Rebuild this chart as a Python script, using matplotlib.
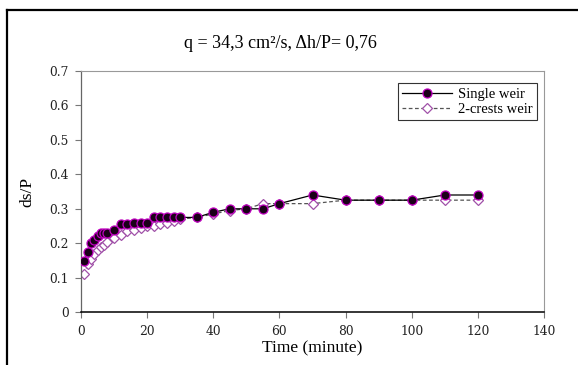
import matplotlib
matplotlib.use("Agg")
import matplotlib.pyplot as plt
from matplotlib.lines import Line2D

# --- Data ---
time_single = [1, 2, 3, 4, 5, 6, 7, 8, 10, 12, 14, 16, 18, 20, 22, 24, 26, 28, 30,
               35, 40, 45, 50, 55, 60, 70, 80, 90, 100, 110, 120]
ds_single = [0.15, 0.175, 0.20, 0.21, 0.22, 0.23, 0.23, 0.23, 0.24, 0.255, 0.255,
             0.26, 0.26, 0.26, 0.275, 0.275, 0.275, 0.275, 0.275,
             0.275, 0.29, 0.30, 0.30, 0.30, 0.315, 0.34, 0.325, 0.325, 0.325, 0.34, 0.34]

time_two = [1, 2, 3, 4, 5, 6, 7, 8, 10, 12, 14, 16, 18, 20, 22, 24, 26, 28, 30,
            35, 40, 45, 50, 55, 60, 70, 80, 90, 100, 110, 120]
ds_two = [0.11, 0.14, 0.155, 0.17, 0.18, 0.19, 0.195, 0.205, 0.215, 0.225, 0.235,
          0.24, 0.245, 0.25, 0.25, 0.255, 0.26, 0.265, 0.27,
          0.275, 0.285, 0.295, 0.30, 0.315, 0.315, 0.315, 0.325, 0.325, 0.325, 0.325, 0.325]

x_ticks = [0, 20, 40, 60, 80, 100, 120, 140]
y_ticks = [0, 0.1, 0.2, 0.3, 0.4, 0.5, 0.6, 0.7]
y_ticklabels = ["0", "0.1", "0.2", "0.3", "0.4", "0.5", "0.6", "0.7"]

plt.rcParams["font.family"] = ["Liberation Serif", "DejaVu Serif"]

W, H = 578, 365
fig = plt.figure(figsize=(W / 100, H / 100), dpi=100)
ax = fig.add_axes([81 / W, 1 - 312.3 / H, (544 - 81) / W, (312.3 - 70.8) / H])

# series
ax.plot(time_single, ds_single, color="black", lw=0.9, marker="o", markersize=6.5,
        markerfacecolor="#1a0018", markeredgecolor="#c000c0", markeredgewidth=0.9,
        label="Single weir", zorder=3)
ax.plot(time_two, ds_two, color="#555555", lw=0.9, ls=(0, (3, 2)), marker="D",
        markersize=5.5, markerfacecolor="white", markeredgecolor="#a050a8",
        markeredgewidth=0.9, label="2-crests weir", zorder=2)

ax.set_xlim(0, 140)
ax.set_ylim(0, 0.7)
ax.set_xticks(x_ticks)
ax.set_yticks(y_ticks)
ax.set_yticklabels(y_ticklabels)
ax.tick_params(direction="out", length=4, width=0.8, color="#777777", pad=5)
for lbl in ax.get_xticklabels() + ax.get_yticklabels():
    lbl.set_family("DejaVu Serif")
    lbl.set_fontsize(8.8)
    lbl.set_color("#222222")

for side in ["top", "right"]:
    ax.spines[side].set_color("#999999")
    ax.spines[side].set_linewidth(0.8)
ax.spines["left"].set_color("#666666")
ax.spines["left"].set_linewidth(0.9)
ax.spines["bottom"].set_color("black")
ax.spines["bottom"].set_linewidth(1.1)

ax.set_xlabel("Time (minute)", fontsize=12.5, labelpad=2)
ax.set_ylabel("ds/P", fontsize=12.5, labelpad=10)

fig.text(280 / W, 1 - 43 / H, "q = 34,3 cm²/s, Δh/P= 0,76", ha="center", va="center",
         fontsize=13)

leg = ax.legend(loc="upper right", bbox_to_anchor=(0.984, 0.948), borderaxespad=0,
                fancybox=False, framealpha=1, edgecolor="#333333", fontsize=10.5,
                handlelength=3.4, borderpad=0.3, labelspacing=0.1, handletextpad=0.4)
leg.get_frame().set_linewidth(0.8)

# outer chart frame (cut off on right and bottom in the reference)
y_top = 1 - 10 / H
x_left = 7 / W
fig.add_artist(Line2D([x_left, 1], [y_top, y_top], transform=fig.transFigure,
                      color="black", lw=1.6))
fig.add_artist(Line2D([x_left, x_left], [0, y_top], transform=fig.transFigure,
                      color="black", lw=1.6))

fig.savefig("out.png", dpi=100)
